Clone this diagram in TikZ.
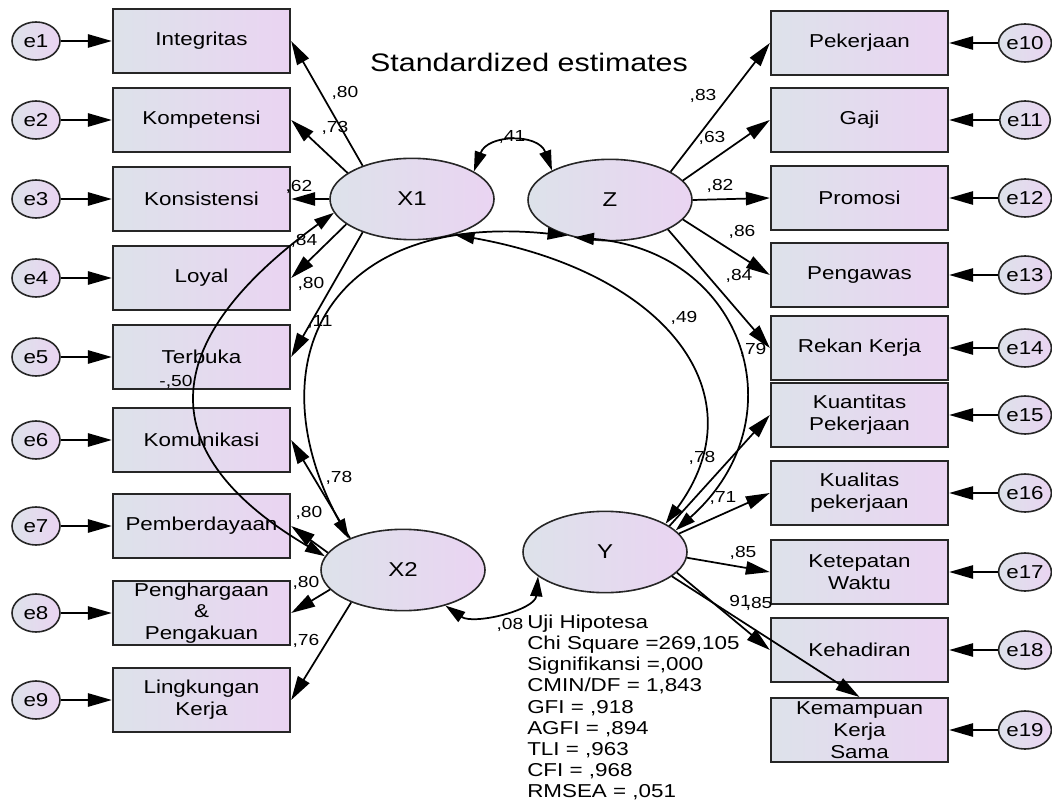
\documentclass[tikz,border=0pt]{standalone}
\usepackage{fontspec}
\setmainfont{Liberation Sans}[FakeStretch=1.2]
\usetikzlibrary{arrows.meta,shapes.geometric}
\definecolor{fillL}{RGB}{221,226,234}
\definecolor{fillR}{RGB}{234,212,242}

\begin{document}
\begin{tikzpicture}[x=0.75pt,y=0.75pt,
obs/.style={draw=black!85, line width=1.5pt, left color=fillL, right color=fillR, minimum width=133pt, minimum height=48pt, inner sep=1pt, align=center, font=\fontsize{14}{16.3}\selectfont},
lat/.style={ellipse, draw=black!85, line width=1.2pt, left color=fillL, right color=fillR, minimum width=123pt, minimum height=61pt, inner sep=0pt, font=\fontsize{15}{17}\selectfont},
err/.style={ellipse, draw=black!85, line width=1.2pt, left color=fillL, right color=fillR, minimum width=36pt, minimum height=28.5pt, inner sep=0pt, font=\fontsize{14}{16}\selectfont},
load/.style={line width=1.3pt, -{Triangle[length=18pt,width=10pt]}},
cov/.style={line width=1.3pt, {Triangle[length=15pt,width=9pt]}-{Triangle[length=15pt,width=9pt]}},
lbl/.style={inner sep=0pt, font=\fontsize{12}{13}\selectfont}]
\useasboundingbox (0,0) rectangle (1052,-805);
\node[font=\fontsize{19}{21}\selectfont] (title) at (529,-62) {Standardized estimates};
\node[lat] (X1) at (412,-199) {X1};
\node[lat] (Z) at (610,-200) {Z};
\node[lat] (X2) at (403,-570) {X2};
\node[lat] (Y) at (605,-552) {Y};
\node[obs] (Integritas) at (201.5,-41) {Integritas};
\node[obs] (Kompetensi) at (201.5,-120) {Kompetensi};
\node[obs] (Konsistensi) at (201.5,-199) {Konsistensi};
\node[obs] (Loyal) at (201.5,-278) {Loyal};
\node[obs] (Terbuka) at (201.5,-357) {Terbuka};
\node[obs] (Komunikasi) at (201.5,-440) {Komunikasi};
\node[obs] (Pemberdayaan) at (201.5,-526) {Pemberdayaan};
\node[obs] (Penghargaan) at (201.5,-613) {Penghargaan\\\&\\Pengakuan};
\node[obs] (Lingkungan) at (201.5,-700) {Lingkungan\\Kerja};
\node[err] (e1) at (36,-41) {e1};
\node[err] (e2) at (36,-120) {e2};
\node[err] (e3) at (36,-199) {e3};
\node[err] (e4) at (36,-278) {e4};
\node[err] (e5) at (36,-357) {e5};
\node[err] (e6) at (36,-440) {e6};
\node[err] (e7) at (36,-526) {e7};
\node[err] (e8) at (36,-613) {e8};
\node[err] (e9) at (36,-700) {e9};
\node[obs] (Pekerjaan) at (859.5,-43) {Pekerjaan};
\node[obs] (Gaji) at (859.5,-120) {Gaji};
\node[obs] (Promosi) at (859.5,-198) {Promosi};
\node[obs] (Pengawas) at (859.5,-275) {Pengawas};
\node[obs] (RekanKerja) at (859.5,-348) {Rekan Kerja};
\node[obs] (Kuantitas) at (859.5,-415) {Kuantitas\\Pekerjaan};
\node[obs] (Kualitas) at (859.5,-493) {Kualitas\\pekerjaan};
\node[obs] (Ketepatan) at (859.5,-572) {Ketepatan\\Waktu};
\node[obs] (Kehadiran) at (859.5,-650) {Kehadiran};
\node[obs] (Kemampuan) at (859.5,-730) {Kemampuan\\Kerja\\Sama};
\node[err] (e10) at (1025,-43) {e10};
\node[err] (e11) at (1025,-120) {e11};
\node[err] (e12) at (1025,-198) {e12};
\node[err] (e13) at (1025,-275) {e13};
\node[err] (e14) at (1025,-348) {e14};
\node[err] (e15) at (1025,-415) {e15};
\node[err] (e16) at (1025,-493) {e16};
\node[err] (e17) at (1025,-572) {e17};
\node[err] (e18) at (1025,-650) {e18};
\node[err] (e19) at (1025,-730) {e19};
\node[anchor=north west, inner sep=0pt, align=left, font=\fontsize{14}{15.8}\selectfont] (uji) at (527,-615) {Uji Hipotesa\\Chi Square =269,105\\Signifikansi =,000\\CMIN/DF = 1,843\\GFI = ,918\\AGFI = ,894\\TLI = ,963\\CFI = ,968\\RMSEA = ,051};
\draw[load] (e1) -- (Integritas);
\draw[load] (e2) -- (Kompetensi);
\draw[load] (e3) -- (Konsistensi);
\draw[load] (e4) -- (Loyal);
\draw[load] (e5) -- (Terbuka);
\draw[load] (e6) -- (Komunikasi);
\draw[load] (e7) -- (Pemberdayaan);
\draw[load] (e8) -- (Penghargaan);
\draw[load] (e9) -- (Lingkungan);
\draw[load] (e10) -- (Pekerjaan);
\draw[load] (e11) -- (Gaji);
\draw[load] (e12) -- (Promosi);
\draw[load] (e13) -- (Pengawas);
\draw[load] (e14) -- (RekanKerja);
\draw[load] (e15) -- (Kuantitas);
\draw[load] (e16) -- (Kualitas);
\draw[load] (e17) -- (Ketepatan);
\draw[load] (e18) -- (Kehadiran);
\draw[load] (e19) -- (Kemampuan);
\draw[load] (X1.146) -- (Integritas.east);
\draw[load] (X1.158) -- (Kompetensi.east);
\draw[load] (X1.west) -- (Konsistensi.east);
\draw[load] (X1.201) -- (Loyal.east);
\draw[load] (X1.214) -- (Terbuka.east);
\draw[load] (X2.149) -- (Komunikasi.east);
\draw[load] (X2.167) -- (Pemberdayaan.east);
\draw[load] (X2.195) -- (Penghargaan.east);
\draw[load] (X2.212) -- (Lingkungan.east);
\draw[load] (Z.25) -- (Pekerjaan.west);
\draw[load] (Z.15) -- (Gaji.west);
\draw[load] (Z.east) -- (Promosi.west);
\draw[load] (Z.-15) -- (Pengawas.west);
\draw[load] (Z.-27) -- (RekanKerja.west);
\draw[load] (Y.22) -- (Kuantitas.west);
\draw[load] (Y.14) -- (Kualitas.west);
\draw[load] (Y.-4) -- (Ketepatan.west);
\draw[load] (Y.-16) -- (Kehadiran.west);
\draw[load] (Y.-20) -- (Kemampuan.north);
\draw[cov] (X1.24) to[out=70,in=110,looseness=1.3] (Z.153);
\draw[cov] (X2.-40) to[out=-35,in=-95,looseness=0.9] (Y.200);
\draw[cov] (X1.190) .. controls (153,-344) and (153,-455) .. (X2.170);
\draw[cov] (X2.150) .. controls (253,-363) and (327,-211) .. (Z.220);
\draw[cov] (X1.-40) .. controls (669,-273) and (760,-396) .. (Y.25);
\draw[cov] (Z.226) .. controls (744,-251) and (801,-419) .. (Y.17);
\node[lbl] (l1) at (345,-93) {,80};
\node[lbl] (l2) at (335,-128) {,73};
\node[lbl] (l3) at (299,-187) {,62};
\node[lbl] (l4) at (304,-241) {,84};
\node[lbl] (l5) at (311,-284) {,80};
\node[lbl] (l6) at (320,-322) {,11};
\node[lbl] (l7) at (176,-382) {-,50};
\node[lbl] (l8) at (339,-478) {,78};
\node[lbl] (l9) at (309,-513) {,80};
\node[lbl] (l10) at (306,-583) {,80};
\node[lbl] (l11) at (306,-641) {,76};
\node[lbl] (l12) at (512,-137) {,41};
\node[lbl] (l13) at (703,-96) {,83};
\node[lbl] (l14) at (712,-138) {,63};
\node[lbl] (l15) at (720,-186) {,82};
\node[lbl] (l16) at (742,-232) {,86};
\node[lbl] (l17) at (739,-276) {,84};
\node[lbl] (l18) at (753,-350) {,79};
\node[lbl] (l19) at (684,-318) {,49};
\node[lbl] (l20) at (702,-458) {,78};
\node[lbl] (l21) at (723,-498) {,71};
\node[lbl] (l22) at (743,-553) {,85};
\node[lbl] (l23) at (740,-601) {91};
\node[lbl] (l24) at (759,-604) {,85};
\node[lbl] (l25) at (510,-625) {,08};
\end{tikzpicture}
\end{document}
